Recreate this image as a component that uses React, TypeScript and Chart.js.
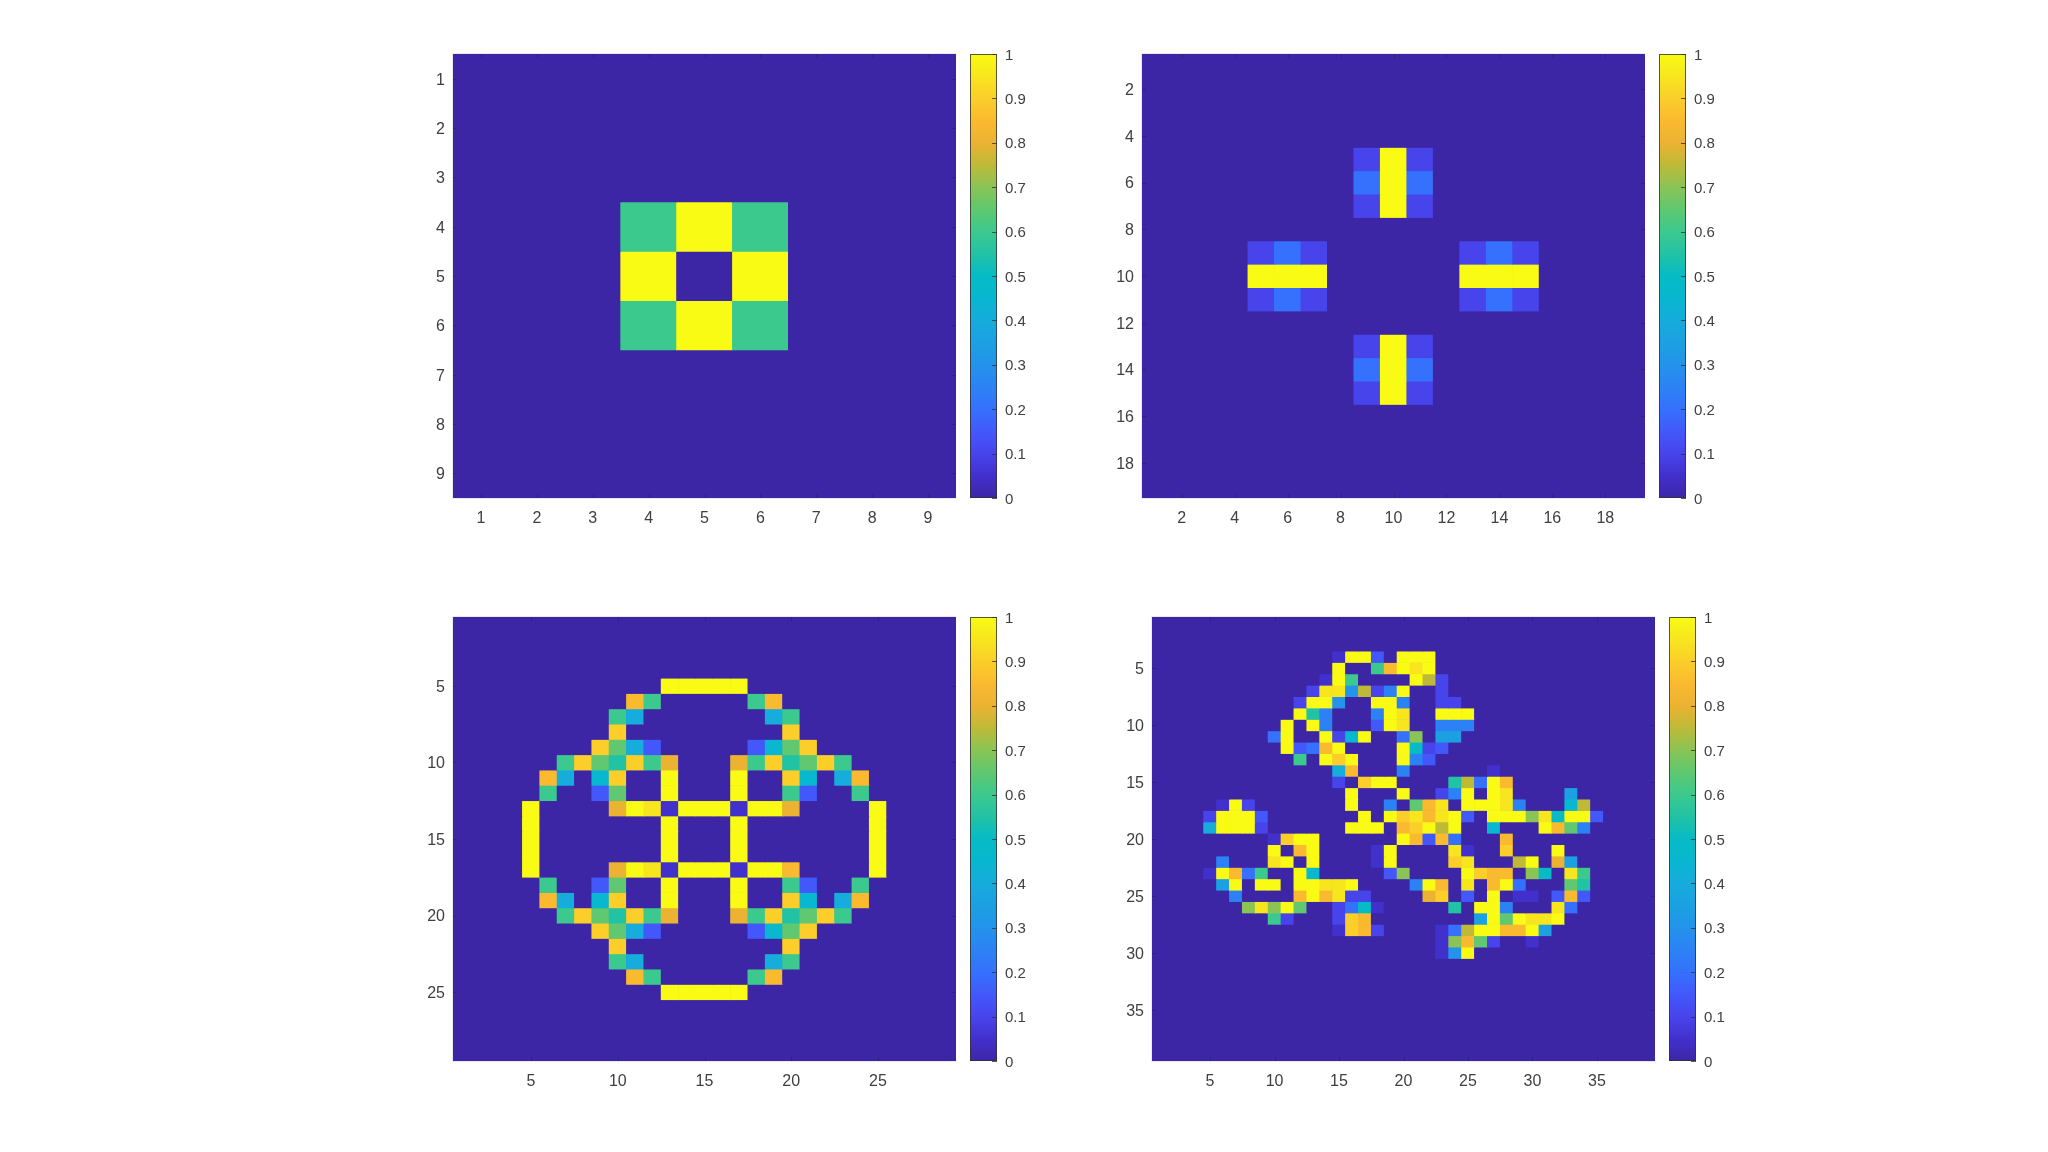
import React, { useEffect, useRef } from "react";
import { Chart, registerables } from "chart.js";

Chart.register(...registerables);

// Level key: each character is one cell, '.'=0 and each following character adds 0.05 (K=1).
const LEVEL_KEY = ".123456789ABCDEFGHIJK";

const panel1Rows = [
  ".........",
  ".........",
  ".........",
  "...CKC...",
  "...K.K...",
  "...CKC...",
  ".........",
  ".........",
  ".........",
];

const panel2Rows = [
  "...................",
  "...................",
  "...................",
  "...................",
  "........2K2........",
  "........4K4........",
  "........2K2........",
  "...................",
  "....242.....242....",
  "....KKK.....KKK....",
  "....242.....242....",
  "...................",
  "........2K2........",
  "........4K4........",
  "........2K2........",
  "...................",
  "...................",
  "...................",
  "...................",
];

const panel3Rows = [
  ".............................",
  ".............................",
  ".............................",
  ".............................",
  "............KKKKK............",
  "..........HC.....CH..........",
  ".........C8.......8C.........",
  ".........I.........I.........",
  "........ID83.....39DI........",
  "......CIDBICG...GCIBDIC......",
  ".....H8.9I..K...K..I9.8H.....",
  ".....C..3D..K...K..C3..C.....",
  "....K....GKJ1KKK1KKG....K....",
  "....K.......K...K.......K....",
  "....K.......K...K.......K....",
  "....K.......K...K.......K....",
  "....K....GKJ1KKK1KKH....K....",
  ".....C..3D..K...K..C3..C.....",
  ".....H8.9I..K...K..I9.8H.....",
  "......CIDBICG...GCIBDIC......",
  "........ID83.....39DI........",
  ".........I.........I.........",
  ".........C8.......8C.........",
  "..........HC.....CH..........",
  "............KKKKK............",
  ".............................",
  ".............................",
  ".............................",
  ".............................",
];

const panel4Rows = [
  ".......................................",
  ".......................................",
  ".......................................",
  "..............1KK3.KKK.................",
  "..............K..CHKJK.................",
  ".............1KC....KF2................",
  "............2JJ6F25K..2................",
  "...........2KK6..KK5..22...............",
  "...........KB5...5KJ..KKK..............",
  "..........K.K5...3KJ..555..............",
  ".........4K..K29K..4E.77...............",
  "..........K34HK....KA23................",
  "...........C.KIK...K53.................",
  "..............8H...5......1............",
  "..............2.IKK....BF4KH...........",
  "...............K...K..25K.KJ....7......",
  ".....1K2.......K..5.DHJ.KKKJ5...9F.....",
  "....2KKK3.......K.KIJHJK3.KKKEJAKK3....",
  "....8KKK2......KKK.HIKFK..9...KHD5.....",
  ".........1IKK......KH3H4...H...........",
  ".........K.HK....1K....J1..I...K.......",
  ".....5...JK.K....1K....IJ...FK.G7......",
  "....1KH4C..K9.....3E....KIHH.EA.JC.....",
  ".....7K.KK.KKJJK....5KH.J.HK4...DB.....",
  "......5....HKHJ22....GI.3.K.11.3H3.....",
  ".......EJEKD..24A1.....B.KK5...J4......",
  ".........C2...2IH........7KDKJJK.......",
  "..............1IH2....14FKKHHK7........",
  "......................1EHD2..1.........",
  "......................16K..............",
  ".......................................",
  ".......................................",
  ".......................................",
  ".......................................",
  ".......................................",
  ".......................................",
  ".......................................",
  ".......................................",
  ".......................................",
];

const panel1XTicks = [1, 2, 3, 4, 5, 6, 7, 8, 9];
const panel1YTicks = [1, 2, 3, 4, 5, 6, 7, 8, 9];
const panel2XTicks = [2, 4, 6, 8, 10, 12, 14, 16, 18];
const panel2YTicks = [2, 4, 6, 8, 10, 12, 14, 16, 18];
const panel3XTicks = [5, 10, 15, 20, 25];
const panel3YTicks = [5, 10, 15, 20, 25];
const panel4XTicks = [5, 10, 15, 20, 25, 30, 35];
const panel4YTicks = [5, 10, 15, 20, 25, 30, 35];
const colorbarTicks = [0, 0.1, 0.2, 0.3, 0.4, 0.5, 0.6, 0.7, 0.8, 0.9, 1];

const colormapStops: [number, number[]][] = [
  [0, [61, 38, 166]],
  [0.05, [66, 48, 205]],
  [0.1, [72, 68, 236]],
  [0.15, [66, 88, 250]],
  [0.2, [53, 113, 253]],
  [0.25, [44, 130, 245]],
  [0.3, [35, 147, 235]],
  [0.35, [28, 160, 226]],
  [0.4, [22, 172, 220]],
  [0.45, [8, 183, 208]],
  [0.5, [6, 187, 197]],
  [0.55, [34, 194, 165]],
  [0.6, [60, 201, 142]],
  [0.65, [95, 200, 112]],
  [0.7, [138, 196, 85]],
  [0.75, [190, 186, 56]],
  [0.8, [236, 178, 50]],
  [0.85, [250, 186, 48]],
  [0.9, [251, 206, 42]],
  [0.95, [247, 230, 30]],
  [1, [249, 251, 20]],
];

function colorOf(v: number) {
  for (let i = 1; i < colormapStops.length; i++) {
    const [b, cb] = colormapStops[i];
    if (v <= b + 1e-9) {
      const [a, ca] = colormapStops[i - 1];
      const t = (v - a) / (b - a);
      const c = ca.map((x, k) => Math.round(x + (cb[k] - x) * t));
      return `rgb(${c[0]},${c[1]},${c[2]})`;
    }
  }
  return "rgb(249,251,20)";
}

const TEXT = "#404040";
const FONT = "'Liberation Sans', Arial, sans-serif";
const GUTTER_L = 50;
const GUTTER_B = 50;
const MARGIN_T = 14;

const inwardTicks = {
  id: "inwardTicks",
  beforeDatasetsDraw(chart: any) {
    const { ctx, chartArea: a } = chart;
    ctx.save();
    ctx.fillStyle = colorOf(0.0001);
    ctx.fillRect(a.left, a.top, a.right - a.left, a.bottom - a.top);
    ctx.restore();
  },
  afterDatasetsDraw(chart: any) {
    const { ctx, chartArea: a, scales } = chart;
    ctx.save();
    ctx.strokeStyle = "rgba(225,225,235,0.7)";
    ctx.lineWidth = 1;
    ctx.strokeRect(a.left - 0.5, a.top - 0.5, a.right - a.left + 1, a.bottom - a.top + 1);
    ctx.strokeStyle = "rgba(20,20,40,0.3)";
    ctx.beginPath();
    scales.x.ticks.forEach((t: any) => {
      const p = Math.round(scales.x.getPixelForValue(t.value)) + 0.5;
      ctx.moveTo(p, a.bottom);
      ctx.lineTo(p, a.bottom - 4);
      ctx.moveTo(p, a.top);
      ctx.lineTo(p, a.top + 4);
    });
    scales.y.ticks.forEach((t: any) => {
      const p = Math.round(scales.y.getPixelForValue(t.value)) + 0.5;
      ctx.moveTo(a.left, p);
      ctx.lineTo(a.left + 4, p);
      ctx.moveTo(a.right, p);
      ctx.lineTo(a.right - 4, p);
    });
    ctx.stroke();
    ctx.restore();
  },
};

const colorbarFrame = {
  id: "colorbarFrame",
  afterDatasetsDraw(chart: any) {
    const { ctx, chartArea: a, scales } = chart;
    ctx.save();
    ctx.strokeStyle = "rgba(50,50,50,0.8)";
    ctx.lineWidth = 1;
    ctx.strokeRect(a.left + 0.5, a.top + 0.5, a.right - a.left - 1, a.bottom - a.top - 1);
    ctx.beginPath();
    scales.y.ticks.forEach((t: any) => {
      const p = Math.round(scales.y.getPixelForValue(t.value)) + 0.5;
      ctx.moveTo(a.right, p);
      ctx.lineTo(a.right - 5, p);
    });
    ctx.stroke();
    ctx.restore();
  },
};

function zeroPadding(s: any) {
  s.paddingLeft = 0;
  s.paddingRight = 0;
  s.paddingTop = 0;
  s.paddingBottom = 0;
}

function Heatmap(props: { rows: string[]; xTicks: number[]; yTicks: number[]; left: number; top: number; width: number; height: number }) {
  const ref = useRef<HTMLCanvasElement>(null);
  const { rows, xTicks, yTicks, left, top, width, height } = props;
  useEffect(() => {
    const n = rows.length;
    const m = rows[0].length;
    const datasets = rows.map((row, r) => {
      const vals = row.split("").map((ch) => LEVEL_KEY.indexOf(ch) / 20);
      return {
        data: vals.map((_, c) => ({ x: c + 1, y: [r + 0.5, r + 1.5] })),
        backgroundColor: vals.map(colorOf),
        barPercentage: 1,
        categoryPercentage: 1,
        grouped: false,
        borderWidth: 0,
      };
    });
    const chart = new Chart(ref.current!, {
      type: "bar",
      data: { datasets } as any,
      plugins: [inwardTicks],
      options: {
        animation: false,
        responsive: false,
        layout: { padding: { top: MARGIN_T, left: 0, right: 0, bottom: 0 } },
        plugins: { legend: { display: false }, tooltip: { enabled: false } },
        scales: {
          x: {
            type: "linear",
            offset: false,
            min: 0.5,
            max: m + 0.5,
            afterBuildTicks: (s: any) => {
              s.ticks = xTicks.map((value) => ({ value }));
            },
            afterFit: (s: any) => {
              s.height = GUTTER_B;
              zeroPadding(s);
            },
            grid: { display: false, drawTicks: false },
            border: { display: false },
            ticks: { color: TEXT, font: { family: FONT, size: 16 }, padding: 11, maxRotation: 0, autoSkip: false, callback: (v: any) => String(v) },
          },
          y: {
            type: "linear",
            reverse: true,
            min: 0.5,
            max: n + 0.5,
            afterBuildTicks: (s: any) => {
              s.ticks = yTicks.map((value) => ({ value }));
            },
            afterFit: (s: any) => {
              s.width = GUTTER_L;
              zeroPadding(s);
            },
            grid: { display: false, drawTicks: false },
            border: { display: false },
            ticks: { color: TEXT, font: { family: FONT, size: 16 }, padding: 8, labelOffset: 1.5, autoSkip: false, callback: (v: any) => String(v) },
          },
        },
      } as any,
    });
    return () => chart.destroy();
  }, []);
  return (
    <canvas
      ref={ref}
      width={width + GUTTER_L}
      height={height + GUTTER_B + MARGIN_T}
      style={{ position: "absolute", left: left - GUTTER_L, top: top - MARGIN_T, width: width + GUTTER_L, height: height + GUTTER_B + MARGIN_T }}
    />
  );
}

function Colorbar(props: { left: number; top: number; width: number; height: number }) {
  const ref = useRef<HTMLCanvasElement>(null);
  const { left, top, width, height } = props;
  const GUT_R = 50;
  useEffect(() => {
    const chart = new Chart(ref.current!, {
      type: "bar",
      data: {
        labels: [""],
        datasets: [
          {
            data: [[0, 1]],
            barPercentage: 1,
            categoryPercentage: 1,
            borderWidth: 0,
            backgroundColor: (c: any) => {
              const y = c.chart.scales.y;
              if (!y || !c.chart.chartArea) return "#000";
              const g = c.chart.ctx.createLinearGradient(0, y.getPixelForValue(0), 0, y.getPixelForValue(1));
              colormapStops.forEach(([s, v]) => g.addColorStop(s, `rgb(${v[0]},${v[1]},${v[2]})`));
              return g;
            },
          },
        ],
      } as any,
      plugins: [colorbarFrame],
      options: {
        animation: false,
        responsive: false,
        layout: { padding: { top: MARGIN_T, bottom: MARGIN_T, left: 0, right: 0 } },
        plugins: { legend: { display: false }, tooltip: { enabled: false } },
        scales: {
          x: { display: false },
          y: {
            position: "right",
            min: 0,
            max: 1,
            afterBuildTicks: (s: any) => {
              s.ticks = colorbarTicks.map((value) => ({ value }));
            },
            afterFit: (s: any) => {
              s.width = GUT_R;
              zeroPadding(s);
            },
            grid: { display: false, drawTicks: false },
            border: { display: false },
            ticks: { color: TEXT, font: { family: FONT, size: 15 }, padding: 8, labelOffset: 1.5, autoSkip: false, callback: (v: any) => String(v) },
          },
        },
      } as any,
    });
    return () => chart.destroy();
  }, []);
  return (
    <canvas
      ref={ref}
      width={width + GUT_R}
      height={height + 2 * MARGIN_T}
      style={{ position: "absolute", left, top: top - MARGIN_T, width: width + GUT_R, height: height + 2 * MARGIN_T }}
    />
  );
}

export default function App() {
  return (
    <div style={{ position: "absolute", left: 0, top: 0, width: 2048, height: 1152, background: "#fff", overflow: "hidden" }}>
      <Heatmap rows={panel1Rows} xTicks={panel1XTicks} yTicks={panel1YTicks} left={453} top={54} width={503} height={444} />
      <Colorbar left={970} top={54} width={27} height={444} />
      <Heatmap rows={panel2Rows} xTicks={panel2XTicks} yTicks={panel2YTicks} left={1142} top={54} width={503} height={444} />
      <Colorbar left={1659} top={54} width={27} height={444} />
      <Heatmap rows={panel3Rows} xTicks={panel3XTicks} yTicks={panel3YTicks} left={453} top={617} width={503} height={444} />
      <Colorbar left={970} top={617} width={27} height={444} />
      <Heatmap rows={panel4Rows} xTicks={panel4XTicks} yTicks={panel4YTicks} left={1152} top={617} width={503} height={444} />
      <Colorbar left={1669} top={617} width={27} height={444} />
    </div>
  );
}
